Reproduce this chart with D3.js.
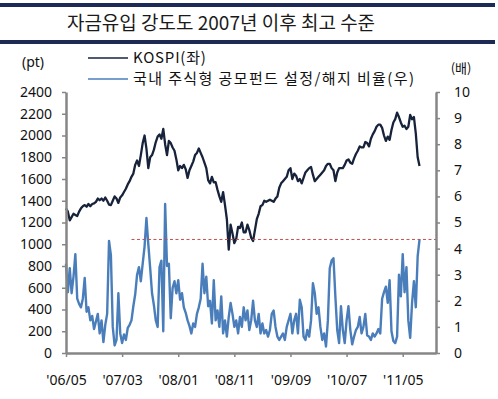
<!DOCTYPE html>
<html>
<head>
<meta charset="utf-8">
<script src="https://cdn.jsdelivr.net/npm/d3@7"></script>
<style>
  body { margin: 0; background: #fff; }
  svg { display: block; }
</style>
</head>
<body>
<svg width="498" height="399"></svg>
<script>
// 3 points per month, starting late May 2006
var tickIndex = [0, 30, 60, 90, 120, 150, 180];
var tickLabels = ["'06/05", "'07/03", "'08/01", "'08/11", "'09/09", "'10/07", "'11/05"];
var leftTicks = [0, 200, 400, 600, 800, 1000, 1200, 1400, 1600, 1800, 2000, 2200, 2400];
var rightTicks = [0, 1, 2, 3, 4, 5, 6, 7, 8, 9, 10];

var kospi = [
  1330,
  1300, 1220, 1250, 1280, 1270, 1260, 1300, 1330, 1350, 1360, 1345, 1370,
  1350, 1370, 1375, 1390, 1420, 1405, 1420, 1400, 1430,
  1400, 1365, 1360, 1400, 1440, 1420, 1380, 1430, 1450, 1480, 1510, 1550,
  1580, 1620, 1650, 1730, 1770, 1720, 1820, 1930, 2000, 1880, 1700, 1800,
  1820, 1870, 1940, 1990, 2010, 1970, 2060, 1920, 1820, 1950, 1930, 1890,
  1860, 1780, 1680, 1720, 1700, 1730, 1690, 1610, 1680, 1720, 1760, 1820,
  1840, 1880, 1840, 1800, 1750, 1700, 1590, 1560, 1620, 1570, 1570, 1500,
  1440, 1390, 1480, 1360, 1230, 950, 1180, 1100, 1010, 1050, 1160, 1150,
  1200, 1110, 1110, 1180, 1130, 1060, 1030, 1130, 1230, 1280, 1350, 1360,
  1400, 1390, 1400, 1410, 1400, 1390, 1420, 1440, 1520, 1560, 1580, 1600,
  1620, 1680, 1700, 1600, 1650, 1630, 1580, 1600, 1560, 1610, 1660, 1680,
  1700, 1710, 1640, 1580, 1600, 1620, 1640, 1660, 1680, 1720, 1740, 1740,
  1700, 1680, 1580, 1660, 1700, 1700, 1700, 1730, 1770, 1780, 1750, 1740,
  1790, 1830, 1860, 1900, 1890, 1890, 1940, 1930, 1900, 1970, 2010, 2040,
  2080, 2100, 2100, 2070, 2000, 1950, 1990, 1960, 2050, 2120, 2150, 2210,
  2170, 2120, 2080, 2090, 2060, 2080, 2190, 2150, 2170, 2020, 1800, 1720
];

var fundRatio = [
  3.42, 2.33, 3.25, 2.29, 2.92, 3.79, 2.08, 1.88, 1.75, 2.08, 2.88, 1.58,
  1.75, 1.25, 1.42, 0.92, 1.21, 1.50, 0.75, 1.25, 0.42, 1.08, 1.50, 4.29,
  3.75, 1.00, 0.29, 0.50, 2.29, 0.75, 0.38, 0.71, 0.50, 0.96, 1.08, 1.25,
  1.79, 2.25, 3.00, 3.29, 2.75, 3.42, 4.08, 5.17, 4.17, 3.25, 2.29, 1.83,
  1.25, 1.00, 3.29, 3.54, 0.83, 5.71, 3.33, 3.42, 1.33, 2.50, 2.75, 2.29,
  2.79, 2.04, 2.29, 1.75, 1.54, 1.25, 1.04, 0.75, 1.13, 1.00, 1.50, 1.75,
  2.08, 3.42, 2.29, 2.92, 1.79, 2.00, 1.13, 2.79, 1.25, 1.63, 1.00, 2.17,
  0.75, 1.25, 0.63, 1.38, 1.92, 1.50, 1.00, 1.25, 0.75, 1.38, 1.00, 1.75,
  1.25, 1.63, 0.88, 1.25, 2.00, 1.25, 1.00, 1.50, 0.75, 1.13, 0.75, 0.88,
  0.63, 0.88, 1.50, 1.63, 1.00, 0.63, 0.50, 0.63, 0.75, 0.50, 1.00, 1.25,
  1.50, 0.75, 1.25, 1.50, 0.75, 2.04, 1.75, 0.63, 0.50, 0.88, 0.63, 1.25,
  2.67, 2.29, 1.50, 1.75, 1.00, 0.50, 0.75, 0.25, 1.25, 3.25, 3.54, 3.63,
  2.17, 0.88, 0.38, 1.79, 0.88, 0.38, 1.25, 1.79, 0.88, 0.33, 0.63, 0.88,
  1.00, 1.38, 0.75, 1.00, 1.50, 0.67, 0.63, 0.50, 0.75, 0.63, 0.75, 0.92,
  0.75, 2.08, 2.33, 2.54, 1.92, 2.79, 0.83, 0.46, 0.38, 0.63, 3.00, 2.17,
  3.79, 2.33, 3.29, 1.25, 0.58, 1.92, 2.75, 1.75, 3.71, 4.35
];

var refLevel = 4.35;   // latest ratio, dashed reference
var refStart = 35;

var svg = d3.select("svg");
var fontLatin = "'Noto Sans', 'Noto Sans CJK KR', sans-serif";
var fontKr = "'Noto Sans CJK KR', 'Noto Sans', sans-serif";

var plotL = 66, plotR = 436, plotT = 92, plotB = 353;

var x = d3.scaleLinear().domain([0, 197.8]).range([plotL, plotR]);
var yL = d3.scaleLinear().domain([0, 2400]).range([plotB, plotT]);
var yR = d3.scaleLinear().domain([0, 10]).range([plotB, plotT]);

// header bars + title
svg.append("rect").attr("x", 0).attr("y", 3).attr("width", 495).attr("height", 4).attr("fill", "#1c2a55");
svg.append("rect").attr("x", 0).attr("y", 40).attr("width", 495).attr("height", 4).attr("fill", "#1c2a55");
svg.append("text")
  .attr("x", 221).attr("y", 30)
  .attr("text-anchor", "middle")
  .style("font-family", fontKr).style("font-size", "19px").attr("fill", "#1a1a1a")
  .text("자금유입 강도도 2007년 이후 최고 수준");

// lines
var lineK = d3.line().x((d, i) => x(i)).y(d => yL(d));
var lineR = d3.line().x((d, i) => x(i)).y(d => yR(d));

svg.append("path").datum(fundRatio)
  .attr("d", lineR).attr("fill", "none")
  .attr("stroke", "#4a7ebb").attr("stroke-width", 2.4).attr("stroke-linejoin", "round");

svg.append("path").datum(kospi)
  .attr("d", lineK).attr("fill", "none")
  .attr("stroke", "#17223b").attr("stroke-width", 2.3).attr("stroke-linejoin", "round");

svg.append("line")
  .attr("x1", x(refStart)).attr("x2", plotR)
  .attr("y1", yR(refLevel)).attr("y2", yR(refLevel))
  .attr("stroke", "#c0504d").attr("stroke-width", 1).attr("stroke-dasharray", "3,2.5");

// axes
var axisColor = "#868686";
function styleAxis(g) {
  g.select(".domain").attr("stroke", axisColor).attr("stroke-width", 2.5);
  g.selectAll(".tick line").attr("stroke", axisColor).attr("stroke-width", 1.5);
  g.selectAll(".tick text").attr("fill", "#111").style("font-family", fontLatin).style("font-size", "14px");
}

svg.append("g").attr("transform", "translate(" + plotL + ",0)")
  .call(d3.axisLeft(yL).tickValues(leftTicks).tickFormat(d3.format("d")).tickSize(4).tickSizeOuter(0).tickPadding(10))
  .call(styleAxis);

svg.append("g").attr("transform", "translate(" + plotR + ",0)")
  .call(d3.axisRight(yR).tickValues(rightTicks).tickFormat(d3.format("d")).tickSize(4).tickSizeOuter(0).tickPadding(14))
  .call(styleAxis);

svg.append("g").attr("transform", "translate(0," + plotB + ")")
  .call(d3.axisBottom(x).tickValues(tickIndex).tickFormat((d, i) => tickLabels[i]).tickSize(4).tickSizeOuter(0).tickPadding(18))
  .call(styleAxis);

// unit labels
svg.append("text").attr("x", 33).attr("y", 67).attr("text-anchor", "middle")
  .style("font-family", fontLatin).style("font-size", "14px").attr("fill", "#111").text("(pt)");
svg.append("text").attr("x", 461).attr("y", 73).attr("text-anchor", "middle")
  .style("font-family", fontKr).style("font-size", "13px").attr("fill", "#111").text("(배)");

// legend
var legendItems = [
  { label: "KOSPI(좌)", color: "#17223b", y: 58 },
  { label: "국내 주식형 공모펀드 설정/해지 비율(우)", color: "#4a7ebb", y: 79 }
];
var lg = svg.append("g").selectAll("g").data(legendItems).enter().append("g");
lg.append("line")
  .attr("x1", 88).attr("x2", 128)
  .attr("y1", d => d.y).attr("y2", d => d.y)
  .attr("stroke", d => d.color).attr("stroke-width", 1.5);
lg.append("text")
  .attr("x", 133).attr("y", d => d.y + 5)
  .style("font-family", fontKr).style("font-size", "15px")
  .style("letter-spacing", d => d.y > 70 ? "1.4px" : "0.8px")
  .attr("fill", "#111")
  .text(d => d.label);
</script>
</body>
</html>
